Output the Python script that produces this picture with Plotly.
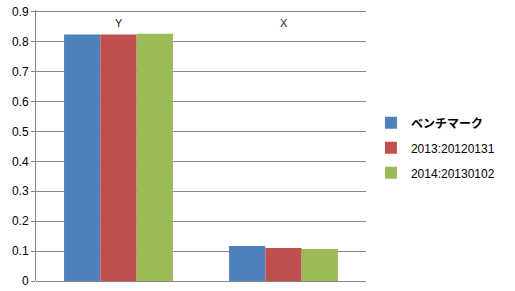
import plotly.graph_objects as go

categories = ["Y", "X"]
series_names = ["<b>ベンチマーク</b>", "2013:20120131", "2014:20130102"]
benchmark = [0.824, 0.117]
s2013 = [0.824, 0.110]
s2014 = [0.827, 0.107]
colors = ["#4F81BD", "#C0504D", "#9BBB59"]
y_ticks = [0, 0.1, 0.2, 0.3, 0.4, 0.5, 0.6, 0.7, 0.8, 0.9]

fig = go.Figure()
for name, vals, col in zip(series_names, [benchmark, s2013, s2014], colors):
    fig.add_trace(go.Bar(x=categories, y=vals, name=name, legendgroup=name,
                         marker=dict(color=col, line=dict(width=0))))

for c in categories:
    fig.add_annotation(x=c, y=y_ticks[-1], xref="x", yref="y", text=c, showarrow=False,
                       yanchor="top", yshift=-3, font=dict(size=11, color="#222"))

fig.update_layout(
    width=515, height=291,
    margin=dict(l=36, r=149, t=10, b=10, autoexpand=False),
    paper_bgcolor="white", plot_bgcolor="white",
    barmode="group", bargap=0.34, bargroupgap=0,
    font=dict(family="Liberation Sans, Arial, sans-serif", size=11, color="black"),
    showlegend=True,
    legend=dict(x=1.015, y=0.637, xanchor="left", yanchor="top",
                font=dict(size=12, family="Liberation Sans, Noto Sans CJK JP, sans-serif"),
                tracegroupgap=6, itemwidth=30),
    xaxis=dict(showline=False, showgrid=False, showticklabels=False,
               ticks="", automargin=False),
    yaxis=dict(range=[0, 0.906], tickvals=y_ticks, ticktext=[f"{v:g}" for v in y_ticks],
               showgrid=True, gridcolor="#878787", gridwidth=1,
               showline=True, linecolor="#878787", linewidth=1,
               ticks="outside", ticklen=4, tickcolor="#878787",
               zeroline=True, zerolinecolor="#878787", zerolinewidth=1,
               tickfont=dict(size=12), automargin=False),
)
fig.write_html("out.html")
